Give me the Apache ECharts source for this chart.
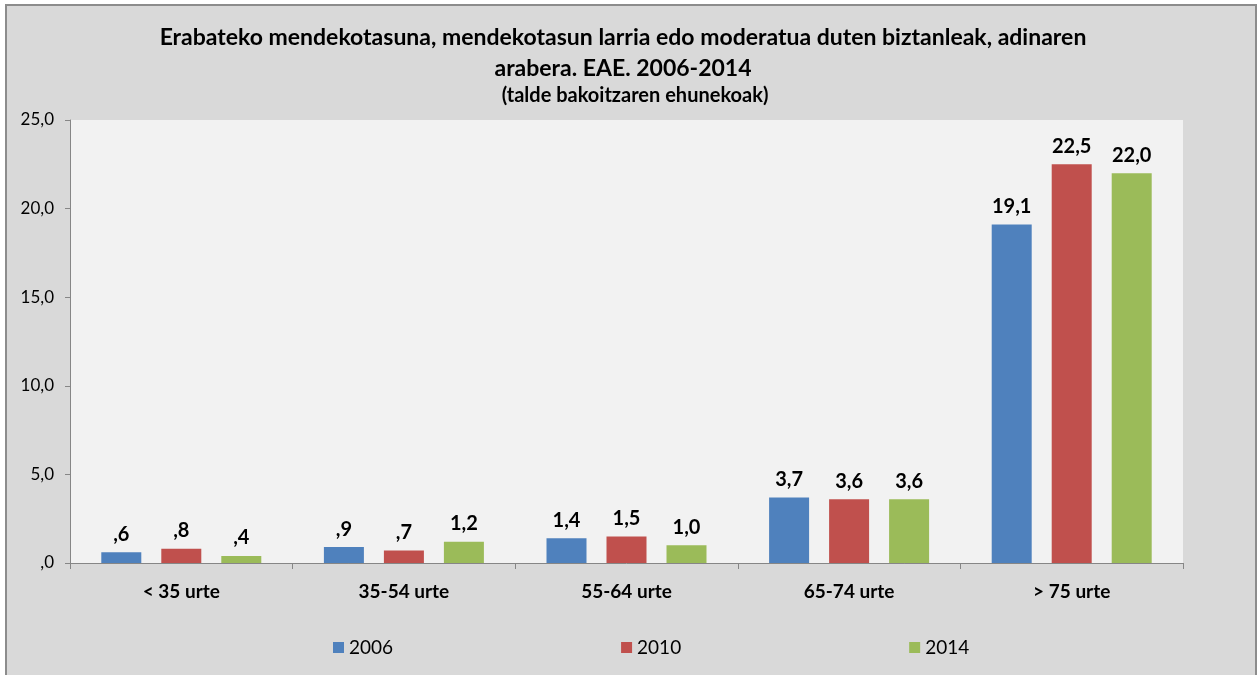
<!DOCTYPE html>
<html>
<head>
<meta charset="utf-8">
<script src="https://cdn.jsdelivr.net/npm/echarts@6/dist/echarts.min.js"></script>
<style>
  html, body { margin: 0; padding: 0; background: #ffffff; }
  #chart { width: 1258px; height: 675px; }
</style>
</head>
<body>
<div id="chart"></div>
<script>
var categories = ['< 35 urte', '35-54 urte', '55-64 urte', '65-74 urte', '> 75 urte'];
var years = ['2006', '2010', '2014'];
var values2006 = [0.6, 0.9, 1.4, 3.7, 19.1];
var values2010 = [0.8, 0.7, 1.5, 3.6, 22.5];
var values2014 = [0.4, 1.2, 1.0, 3.6, 22.0];
var colors = ['#4f81bd', '#c0504d', '#9bbb59'];

var font = 'Lato, "Open Sans", sans-serif';

// 0,6 -> ",6" like the original spreadsheet
function fmt(v) {
  return v.toFixed(1).replace('.', ',').replace(/^0/, '');
}

var chart = echarts.init(document.getElementById('chart'));
var seriesData = [values2006, values2010, values2014];

chart.setOption({
  animation: false,
  backgroundColor: '#ffffff',
  graphic: [{
    type: 'rect',
    z: -10,
    shape: { x: 6, y: 5, width: 1250, height: 675 },
    style: { fill: '#d9d9d9', stroke: '#8c8c8c', lineWidth: 2 }
  }],
  title: [{
    text: 'Erabateko mendekotasuna, mendekotasun larria edo moderatua duten biztanleak, adinaren\narabera. EAE. 2006-2014',
    left: 618, top: 17, textAlign: 'center',
    textStyle: { fontFamily: font, fontSize: 23, fontWeight: 'bold', color: '#000', lineHeight: 31 }
  }, {
    text: '(talde bakoitzaren ehunekoak)',
    left: 630, top: 81, textAlign: 'center',
    textStyle: { fontFamily: font, fontSize: 20, fontWeight: 'bold', color: '#000' }
  }],
  legend: {
    left: 328, top: 633,
    itemWidth: 11, itemHeight: 11, itemGap: 228,
    icon: 'rect',
    textStyle: { fontFamily: font, fontSize: 19, color: '#000' },
    data: years
  },
  grid: {
    left: 70, right: 75, top: 120, bottom: 112,
    show: true, backgroundColor: '#f2f2f2', borderWidth: 0
  },
  xAxis: {
    type: 'category',
    data: categories,
    axisLine: { lineStyle: { color: '#868686', width: 1 } },
    axisTick: { show: true, length: 6, lineStyle: { color: '#868686' } },
    axisLabel: { fontFamily: font, fontSize: 19, fontWeight: 'bold', color: '#000', margin: 19 }
  },
  yAxis: {
    type: 'value',
    min: 0, max: 25, interval: 5,
    axisLine: { show: true, lineStyle: { color: '#868686', width: 1 } },
    axisTick: { show: true, length: 5, lineStyle: { color: '#868686' } },
    splitLine: { show: false },
    axisLabel: { fontFamily: font, fontSize: 17, color: '#000', margin: 16, formatter: fmt }
  },
  series: years.map(function (y, i) {
    return {
      name: y,
      type: 'bar',
      data: seriesData[i],
      barWidth: 40,
      barGap: '50%',
      itemStyle: { color: colors[i] },
      label: {
        show: true, position: 'top', distance: 8,
        fontFamily: font, fontSize: 20, fontWeight: 'bold', color: '#000',
        formatter: function (p) { return fmt(p.value); }
      }
    };
  })
});
</script>
</body>
</html>
